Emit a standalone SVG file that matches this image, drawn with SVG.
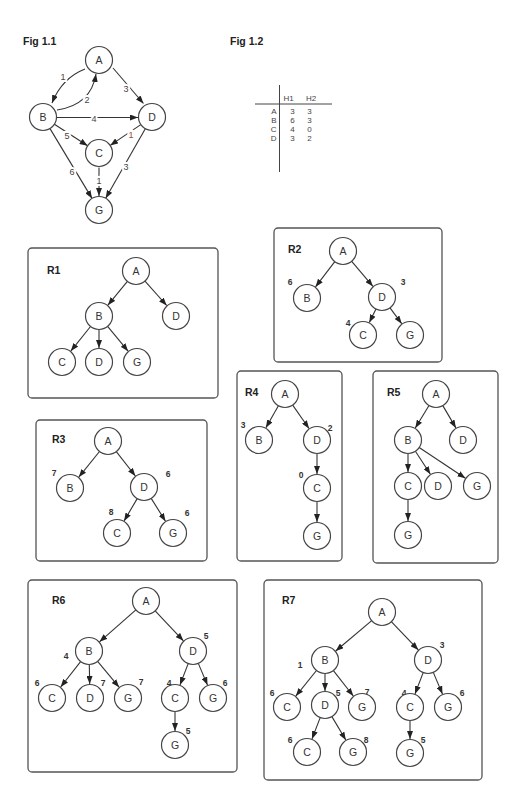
<svg xmlns="http://www.w3.org/2000/svg" width="532" height="796" viewBox="0 0 532 796">
<defs>
<marker id="ah" markerWidth="8" markerHeight="6" refX="8" refY="3" orient="auto" markerUnits="userSpaceOnUse"><path d="M0,0 L8,3 L0,6 z" fill="#222"/></marker>
</defs>
<style>
.n circle{fill:#fff;stroke:#444;stroke-width:1.2}
.n text{font-family:"Liberation Sans",Arial,sans-serif;font-size:10.5px;fill:#333;text-anchor:middle}
.e{stroke:#333;stroke-width:1.1;fill:none;marker-end:url(#ah)}
.box{fill:none;stroke:#555;stroke-width:1.3}
.ttl{font-family:"Liberation Sans",Arial,sans-serif;font-size:10.5px;font-weight:bold;fill:#222}
.h{font-family:"Liberation Sans",Arial,sans-serif;font-size:8.5px;font-weight:bold;fill:#333;text-anchor:middle}
.w{font-family:"Liberation Sans",Arial,sans-serif;font-size:9px;fill:#444;text-anchor:middle;stroke:#fff;stroke-width:4;paint-order:stroke}
.tb{font-family:"Liberation Sans",Arial,sans-serif;font-size:8px;fill:#444}
.ln{stroke:#444;stroke-width:1}
</style>
<rect width="532" height="796" fill="#fff"/>

<!-- Fig 1.1 -->
<text class="ttl" x="23" y="45">Fig 1.1</text>
<g id="f11-connectors">
<path class="e" d="M85,69 Q62,78 52,103"/>
<path class="e" d="M57,110 Q91,105 96,74"/>
<path class="e" d="M113,68 L143.5,103.5"/>
<path class="e" d="M57,117.5 L138,117.5"/>
<path class="e" d="M54.4,124.3 L87.6,145.7"/>
<path class="e" d="M140.8,124.6 L110.2,145.4"/>
<path class="e" d="M50,128.6 L92,198.4"/>
<path class="e" d="M99,167.5 L99,196"/>
<path class="e" d="M145.3,128.7 L105.7,198.3"/>
<text class="w" x="63" y="80">1</text>
<text class="w" x="87" y="103">2</text>
<text class="w" x="126" y="92">3</text>
<text class="w" x="94" y="122">4</text>
<text class="w" x="67" y="139">5</text>
<text class="w" x="131" y="138" style="fill:#9b4a3a">1</text>
<text class="w" x="72" y="175">6</text>
<text class="w" x="99" y="184">1</text>
<text class="w" x="126" y="170">3</text>
</g>
<g id="f11-A" class="n"><circle cx="99" cy="60" r="13.5"/><text x="99" y="63.8">A</text></g>
<g id="f11-B" class="n"><circle cx="43" cy="117" r="13.5"/><text x="43" y="120.8">B</text></g>
<g id="f11-D" class="n"><circle cx="152" cy="117" r="13.5"/><text x="152" y="120.8">D</text></g>
<g id="f11-C" class="n"><circle cx="99" cy="153" r="13.5"/><text x="99" y="156.8">C</text></g>
<g id="f11-G" class="n"><circle cx="99" cy="210" r="13.5"/><text x="99" y="213.8">G</text></g>

<!-- Fig 1.2 -->
<text class="ttl" x="230" y="45">Fig 1.2</text>
<g id="f12-table">
<line class="ln" x1="279.5" y1="85" x2="279.5" y2="172"/>
<line class="ln" x1="255" y1="104" x2="332" y2="104"/>
<text class="tb" x="288.5" y="101" text-anchor="middle">H1</text>
<text class="tb" x="311" y="101" text-anchor="middle">H2</text>
<text class="tb" x="276.5" y="113.8" text-anchor="end">A</text>
<text class="tb" x="276.5" y="122.8" text-anchor="end">B</text>
<text class="tb" x="276.5" y="131.8" text-anchor="end">C</text>
<text class="tb" x="276.5" y="140.8" text-anchor="end">D</text>
<text class="tb" x="292.5" y="113.8" text-anchor="middle">3</text>
<text class="tb" x="292.5" y="122.8" text-anchor="middle">6</text>
<text class="tb" x="292.5" y="131.8" text-anchor="middle">4</text>
<text class="tb" x="292.5" y="140.8" text-anchor="middle">3</text>
<text class="tb" x="309.5" y="113.8" text-anchor="middle">3</text>
<text class="tb" x="309.5" y="122.8" text-anchor="middle">3</text>
<text class="tb" x="309.5" y="131.8" text-anchor="middle">0</text>
<text class="tb" x="309.5" y="140.8" text-anchor="middle">2</text>
</g>

<!-- R1 -->
<rect class="box" x="28" y="248" width="190" height="150" rx="4"/>
<text class="ttl" x="47" y="273.5">R1</text>
<g id="r1-connectors">
<path class="e" d="M127.4,281.4 L107.9,305.2"/>
<path class="e" d="M145,281.1 L166.7,305.5"/>
<path class="e" d="M90.5,326.5 L70.8,351.1"/>
<path class="e" d="M99,329.5 L99,348"/>
<path class="e" d="M107.6,326.4 L128.1,351.2"/>
</g>
<g id="r1-A" class="n"><circle cx="136" cy="271" r="13.5"/><text x="136" y="274.8">A</text></g>
<g id="r1-B" class="n"><circle cx="99" cy="316" r="13.5"/><text x="99" y="319.8">B</text></g>
<g id="r1-D" class="n"><circle cx="176" cy="316" r="13.5"/><text x="176" y="319.8">D</text></g>
<g id="r1-C" class="n"><circle cx="62" cy="362" r="13.5"/><text x="62" y="365.8">C</text></g>
<g id="r1-D2" class="n"><circle cx="99" cy="362" r="13.5"/><text x="99" y="365.8">D</text></g>
<g id="r1-G" class="n"><circle cx="137" cy="362" r="13.5"/><text x="137" y="365.8">G</text></g>

<!-- R2 -->
<rect class="box" x="274" y="228" width="168" height="134" rx="4"/>
<text class="ttl" x="288" y="253">R2</text>
<g id="r2-connectors">
<path class="e" d="M334.8,261.7 L315.5,286.9"/>
<path class="e" d="M351.7,261.3 L372.9,286.3"/>
<path class="e" d="M376,309.1 L369.3,322.5"/>
<path class="e" d="M390,307.9 L401.7,323.7"/>
<text class="h" x="290" y="285">6</text>
<text class="h" x="403" y="285">3</text>
<text class="h" x="348" y="326">4</text>
</g>
<g id="r2-A" class="n"><circle cx="343" cy="251" r="13.5"/><text x="343" y="254.8">A</text></g>
<g id="r2-B" class="n"><circle cx="307" cy="298" r="13.5"/><text x="307" y="301.8">B</text></g>
<g id="r2-D" class="n"><circle cx="382" cy="297" r="13.5"/><text x="382" y="300.8">D</text></g>
<g id="r2-C" class="n"><circle cx="363" cy="335" r="13.5"/><text x="363" y="338.8">C</text></g>
<g id="r2-G" class="n"><circle cx="410" cy="335" r="13.5"/><text x="410" y="338.8">G</text></g>

<!-- R3 -->
<rect class="box" x="36" y="420" width="171" height="141" rx="4"/>
<text class="ttl" x="52" y="443">R3</text>
<g id="r3-connectors">
<path class="e" d="M99.5,451.5 L78.8,477.1"/>
<path class="e" d="M116.3,451.6 L135.4,476"/>
<path class="e" d="M137.2,498.6 L124.1,520.9"/>
<path class="e" d="M151.2,498.4 L165.5,521.2"/>
<text class="h" x="54" y="476">7</text>
<text class="h" x="168" y="477">6</text>
<text class="h" x="111" y="515">8</text>
<text class="h" x="187" y="516">6</text>
</g>
<g id="r3-A" class="n"><circle cx="108" cy="441" r="13.5"/><text x="108" y="444.8">A</text></g>
<g id="r3-B" class="n"><circle cx="70" cy="488" r="13.5"/><text x="70" y="491.8">B</text></g>
<g id="r3-D" class="n"><circle cx="144" cy="487" r="13.5"/><text x="144" y="490.8">D</text></g>
<g id="r3-C" class="n"><circle cx="117" cy="533" r="13.5"/><text x="117" y="536.8">C</text></g>
<g id="r3-G" class="n"><circle cx="173" cy="533" r="13.5"/><text x="173" y="536.8">G</text></g>

<!-- R4 -->
<rect class="box" x="237" y="371" width="105" height="190" rx="4"/>
<text class="ttl" x="245" y="396">R4</text>
<g id="r4-connectors">
<path class="e" d="M278.4,405.8 L265.9,427.8"/>
<path class="e" d="M292.7,405.1 L309,428.5"/>
<path class="e" d="M317,453.5 L317,474"/>
<path class="e" d="M317,501.5 L317,522"/>
<text class="h" x="243" y="428">3</text>
<text class="h" x="330" y="431">2</text>
<text class="h" x="301" y="478">0</text>
</g>
<g id="r4-A" class="n"><circle cx="285" cy="394" r="13.5"/><text x="285" y="397.8">A</text></g>
<g id="r4-B" class="n"><circle cx="259" cy="440" r="13.5"/><text x="259" y="443.8">B</text></g>
<g id="r4-D" class="n"><circle cx="317" cy="440" r="13.5"/><text x="317" y="443.8">D</text></g>
<g id="r4-C" class="n"><circle cx="317" cy="488" r="13.5"/><text x="317" y="491.8">C</text></g>
<g id="r4-G" class="n"><circle cx="317" cy="536" r="13.5"/><text x="317" y="539.8">G</text></g>

<!-- R5 -->
<rect class="box" x="373" y="371" width="125" height="192" rx="4"/>
<text class="ttl" x="387" y="396">R5</text>
<g id="r5-connectors">
<path class="e" d="M429,405.5 L415.3,428"/>
<path class="e" d="M442.8,405.6 L455.9,427.9"/>
<path class="e" d="M408,453.5 L408,472"/>
<path class="e" d="M415.4,451.3 L430.4,474.3"/>
<path class="e" d="M419.2,447.5 L465.4,478.2"/>
<path class="e" d="M408,499.5 L408,521"/>
</g>
<g id="r5-A" class="n"><circle cx="436" cy="394" r="13.5"/><text x="436" y="397.8">A</text></g>
<g id="r5-B" class="n"><circle cx="408" cy="440" r="13.5"/><text x="408" y="443.8">B</text></g>
<g id="r5-D" class="n"><circle cx="463" cy="440" r="13.5"/><text x="463" y="443.8">D</text></g>
<g id="r5-C" class="n"><circle cx="408" cy="486" r="13.5"/><text x="408" y="489.8">C</text></g>
<g id="r5-D2" class="n"><circle cx="438" cy="486" r="13.5"/><text x="438" y="489.8">D</text></g>
<g id="r5-G" class="n"><circle cx="477" cy="486" r="13.5"/><text x="477" y="489.8">G</text></g>
<g id="r5-G2" class="n"><circle cx="408" cy="535" r="13.5"/><text x="408" y="538.8">G</text></g>

<!-- R6 -->
<rect class="box" x="28" y="580" width="209" height="192" rx="4"/>
<text class="ttl" x="52" y="604">R6</text>
<g id="r6-connectors">
<path class="e" d="M135.9,609.9 L99.5,641.8"/>
<path class="e" d="M155.2,610.8 L183.4,640.8"/>
<path class="e" d="M80.6,661.6 L60.7,687"/>
<path class="e" d="M89.3,664.5 L89.7,684"/>
<path class="e" d="M97.6,661.4 L119.1,687.2"/>
<path class="e" d="M188.2,663.6 L180,684.9"/>
<path class="e" d="M198.3,663.4 L207.5,685.1"/>
<path class="e" d="M175,711.5 L175,731"/>
<text class="h" x="66" y="659">4</text>
<text class="h" x="206" y="639">5</text>
<text class="h" x="37" y="686">6</text>
<text class="h" x="103" y="686">7</text>
<text class="h" x="141" y="685">7</text>
<text class="h" x="169" y="686">4</text>
<text class="h" x="225" y="686">6</text>
<text class="h" x="188" y="734">5</text>
</g>
<g id="r6-A" class="n"><circle cx="146" cy="601" r="13.5"/><text x="146" y="604.8">A</text></g>
<g id="r6-B" class="n"><circle cx="89" cy="651" r="13.5"/><text x="89" y="654.8">B</text></g>
<g id="r6-D" class="n"><circle cx="193" cy="651" r="13.5"/><text x="193" y="654.8">D</text></g>
<g id="r6-C" class="n"><circle cx="52" cy="698" r="13.5"/><text x="52" y="701.8">C</text></g>
<g id="r6-D2" class="n"><circle cx="90" cy="698" r="13.5"/><text x="90" y="701.8">D</text></g>
<g id="r6-G" class="n"><circle cx="128" cy="698" r="13.5"/><text x="128" y="701.8">G</text></g>
<g id="r6-C2" class="n"><circle cx="175" cy="698" r="13.5"/><text x="175" y="701.8">C</text></g>
<g id="r6-G2" class="n"><circle cx="213" cy="698" r="13.5"/><text x="213" y="701.8">G</text></g>
<g id="r6-G3" class="n"><circle cx="175" cy="745" r="13.5"/><text x="175" y="748.8">G</text></g>

<!-- R7 -->
<rect class="box" x="264" y="580" width="218" height="200" rx="4"/>
<text class="ttl" x="282" y="604">R7</text>
<g id="r7-connectors">
<path class="e" d="M371.7,620.7 L335.7,651"/>
<path class="e" d="M391.3,621.7 L418.3,649.9"/>
<path class="e" d="M316.5,670.5 L295.8,696.1"/>
<path class="e" d="M325,673.5 L325,691"/>
<path class="e" d="M333.4,670.6 L353.3,696"/>
<path class="e" d="M423.2,672.6 L415,693.9"/>
<path class="e" d="M433.3,672.4 L442.5,694.1"/>
<path class="e" d="M320.2,717.6 L312,738.9"/>
<path class="e" d="M331.9,716.6 L345.8,740"/>
<path class="e" d="M410,720.5 L410,739"/>
<text class="h" x="300" y="668">1</text>
<text class="h" x="442" y="648">3</text>
<text class="h" x="272" y="696">6</text>
<text class="h" x="338" y="696">5</text>
<text class="h" x="367" y="695">7</text>
<text class="h" x="404" y="696">4</text>
<text class="h" x="462" y="696">6</text>
<text class="h" x="290" y="743">6</text>
<text class="h" x="366" y="743">8</text>
<text class="h" x="423" y="743">5</text>
</g>
<g id="r7-A" class="n"><circle cx="382" cy="612" r="13.5"/><text x="382" y="615.8">A</text></g>
<g id="r7-B" class="n"><circle cx="325" cy="660" r="13.5"/><text x="325" y="663.8">B</text></g>
<g id="r7-D" class="n"><circle cx="428" cy="660" r="13.5"/><text x="428" y="663.8">D</text></g>
<g id="r7-C" class="n"><circle cx="287" cy="707" r="13.5"/><text x="287" y="710.8">C</text></g>
<g id="r7-D2" class="n"><circle cx="325" cy="705" r="13.5"/><text x="325" y="708.8">D</text></g>
<g id="r7-G" class="n"><circle cx="362" cy="707" r="13.5"/><text x="362" y="710.8">G</text></g>
<g id="r7-C2" class="n"><circle cx="410" cy="707" r="13.5"/><text x="410" y="710.8">C</text></g>
<g id="r7-G2" class="n"><circle cx="448" cy="707" r="13.5"/><text x="448" y="710.8">G</text></g>
<g id="r7-C3" class="n"><circle cx="307" cy="752" r="13.5"/><text x="307" y="755.8">C</text></g>
<g id="r7-G3" class="n"><circle cx="353" cy="752" r="13.5"/><text x="353" y="755.8">G</text></g>
<g id="r7-G4" class="n"><circle cx="410" cy="753" r="13.5"/><text x="410" y="756.8">G</text></g>
</svg>
